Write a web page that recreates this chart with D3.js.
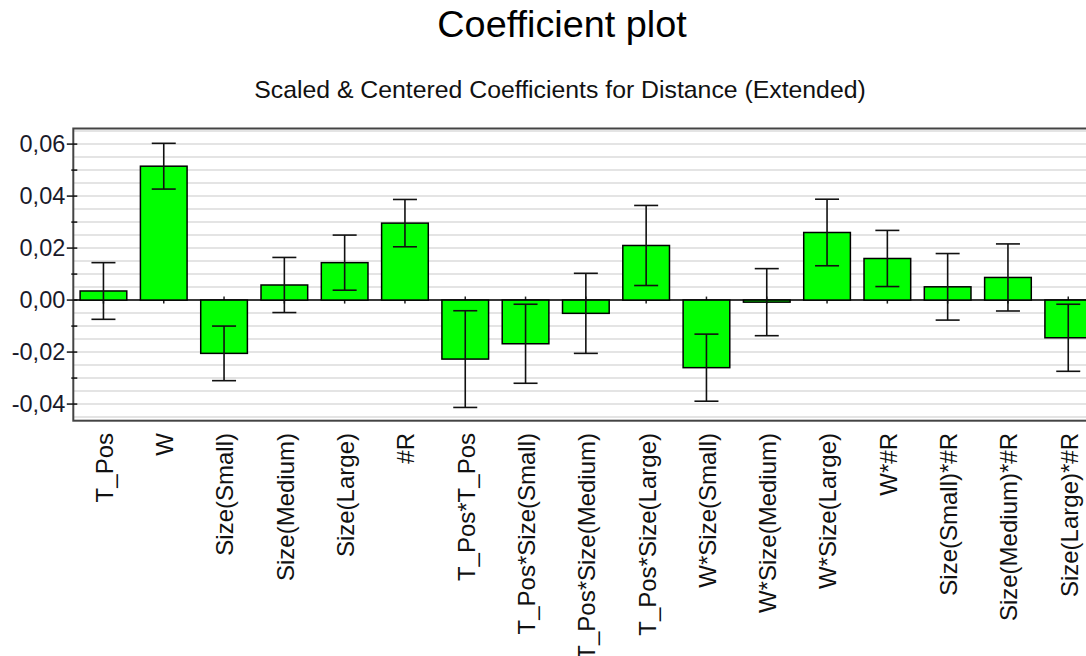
<!DOCTYPE html>
<html><head><meta charset="utf-8">
<script src="https://cdn.jsdelivr.net/npm/d3@7"></script>
<style>body{margin:0;background:#fff;overflow:hidden}svg{display:block;font-family:"Liberation Sans",Arial,sans-serif}</style>
</head><body>
<svg id="c" width="1086" height="656"></svg>
<script>
const categories = ["T_Pos","W","Size(Small)","Size(Medium)","Size(Large)","#R","T_Pos*T_Pos","T_Pos*Size(Small)","T_Pos*Size(Medium)","T_Pos*Size(Large)","W*Size(Small)","W*Size(Medium)","W*Size(Large)","W*#R","Size(Small)*#R","Size(Medium)*#R","Size(Large)*#R"];
const coefficients = [0.0035,0.0515,-0.0205,0.0058,0.0144,0.0296,-0.0227,-0.0168,-0.0051,0.0210,-0.0260,-0.0008,0.0260,0.0160,0.0051,0.0087,-0.0145];
const confHalfWidths = [0.0109,0.0088,0.0105,0.0106,0.0106,0.0091,0.0186,0.0152,0.0154,0.0154,0.0129,0.0129,0.0128,0.0108,0.0128,0.0129,0.0129];
const yTickValues = [-0.04,-0.02,0,0.02,0.04,0.06];
const yMinorTickValues = [-0.03,-0.01,0.01,0.03,0.05];
const gridValues = d3.range(-0.045,0.0651,0.005);
const title = "Coefficient plot";
const subtitle = "Scaled & Centered Coefficients for Distance (Extended)";

const svg = d3.select("#c");
const L = 73.3, T = 128.5, B = 420.7, R = 73.3 + 17*60.3;
const y = d3.scaleLinear().domain([-0.0464,0.066]).range([B,T]);
const x = d3.scaleBand().domain(categories).range([L,R]).paddingInner(0.226).paddingOuter(0.113);
const fmt = v => d3.format(".2f")(v).replace(".",",").replace("−","-");

svg.append("text").attr("x",562).attr("y",37).attr("text-anchor","middle")
  .attr("font-size",37.8).attr("fill","#000").text(title);
svg.append("text").attr("x",560).attr("y",98).attr("text-anchor","middle")
  .attr("font-size",24.8).attr("fill","#111").text(subtitle);

// grid
svg.append("g").selectAll("line").data(gridValues).join("line")
  .attr("x1",L).attr("x2",R).attr("y1",d=>y(d)).attr("y2",d=>y(d))
  .attr("stroke","#e4e4e4").attr("stroke-width",2);

// x ticks at zero
svg.append("g").selectAll("line").data(categories).join("line")
  .attr("x1",d=>x(d)+x.bandwidth()/2).attr("x2",d=>x(d)+x.bandwidth()/2)
  .attr("y1",y(0)-3.5).attr("y2",y(0)+3.5).attr("stroke","#222").attr("stroke-width",1.5);

// zero line
svg.append("line").attr("x1",L).attr("x2",R).attr("y1",y(0)).attr("y2",y(0))
  .attr("stroke","#000").attr("stroke-width",1.5);

// bars
svg.append("g").selectAll("rect").data(categories).join("rect")
  .attr("x",d=>x(d)).attr("width",x.bandwidth())
  .attr("y",(d,i)=>y(Math.max(0,coefficients[i])))
  .attr("height",(d,i)=>Math.abs(y(coefficients[i])-y(0)))
  .attr("fill","#00ff00").attr("stroke","#000").attr("stroke-width",1.5);

// error bars
const eb = svg.append("g").attr("stroke","#111").attr("stroke-width",1.6);
categories.forEach((c,i)=>{
  const cx = x(c)+x.bandwidth()/2;
  const hi = y(coefficients[i]+confHalfWidths[i]), lo = y(coefficients[i]-confHalfWidths[i]);
  eb.append("line").attr("x1",cx).attr("x2",cx).attr("y1",hi).attr("y2",lo);
  eb.append("line").attr("x1",cx-12).attr("x2",cx+12).attr("y1",hi).attr("y2",hi);
  eb.append("line").attr("x1",cx-12).attr("x2",cx+12).attr("y1",lo).attr("y2",lo);
});

// frame
svg.append("rect").attr("x",L).attr("y",T).attr("width",R-L).attr("height",B-T)
  .attr("fill","none").attr("stroke","#444").attr("stroke-width",2);

// y axis ticks
svg.append("g").selectAll("line").data(yTickValues).join("line")
  .attr("x1",L-6.5).attr("x2",L+4).attr("y1",d=>y(d)).attr("y2",d=>y(d))
  .attr("stroke","#111").attr("stroke-width",1.5);
svg.append("g").selectAll("line").data(yMinorTickValues).join("line")
  .attr("x1",L-2).attr("x2",L+4).attr("y1",d=>y(d)).attr("y2",d=>y(d))
  .attr("stroke","#111").attr("stroke-width",1.5);
svg.append("g").selectAll("text").data(yTickValues).join("text")
  .attr("x",L-8).attr("y",d=>y(d)).attr("dy","0.35em").attr("text-anchor","end")
  .attr("font-size",23.5).attr("fill","#1a1a2a").text(fmt);

// x labels
svg.append("g").selectAll("text").data(categories).join("text")
  .attr("transform",d=>`translate(${x(d)+x.bandwidth()/2+1},433) rotate(-90)`)
  .attr("dy","0.35em").attr("text-anchor","end").attr("font-size",24).attr("fill","#111").text(d=>d);
</script>
</body></html>
